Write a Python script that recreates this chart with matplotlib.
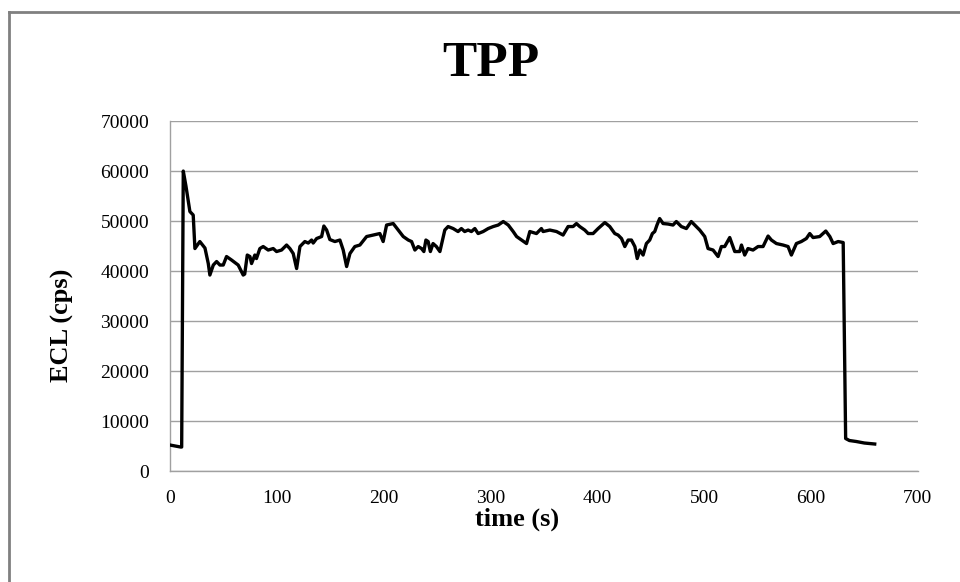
import matplotlib.pyplot as plt
from matplotlib.lines import Line2D

# ECL trace
time_s = [0, 5, 10, 11, 12.5, 15, 18.7, 21.8, 23.4, 28, 32.8, 35.9, 37.4, 40.6, 43.7,
          46.8, 49.9, 53, 57.7, 63.9, 68.6, 70, 72.4, 74.9, 76.4, 79.5, 81, 84.2, 87.3,
          92, 96.7, 99.8, 104.5, 109.2, 112.3, 115.4, 118.6, 121.7, 126.3, 129.5, 132.6,
          134.1, 137.3, 142, 144.1, 146.7, 149.7, 154.4, 159.1, 162.2, 165.4, 168.5,
          173.1, 177.8, 184.1, 190.3, 196.5, 199.6, 202.8, 209, 213.7, 218.4, 223.1,
          226.2, 229.3, 232.4, 235.5, 237.7, 239.6, 241.7, 243.8, 246.3, 249.4, 252.7,
          257.3, 260.4, 265.1, 269.7, 272.8, 275.9, 279.1, 282.2, 285.4, 288.5, 293.2,
          297.9, 302.6, 307.3, 312, 316.7, 321.3, 324.5, 329.2, 333.8, 336.9, 343.1,
          347.7, 349.3, 355.6, 361.9, 368, 372.7, 377.4, 380.5, 383.6, 388.3, 391.5,
          396.1, 400.8, 407.1, 411.7, 416.4, 419.5, 422.7, 425.8, 428.9, 432, 435.2,
          437.4, 439.9, 442.9, 446, 449.1, 451.6, 453.8, 455.9, 458.4, 461.6, 466.3,
          470.9, 474, 478.7, 483.4, 488, 491.2, 495.9, 500.6, 503.7, 508.4, 513.1,
          516.2, 519.3, 524, 528.7, 533.3, 535, 538, 541.1, 545.8, 550.5, 555.2, 559.9,
          563, 567.7, 573.9, 578.6, 581.7, 586.4, 591, 595.7, 598.9, 602, 608.2, 613.9,
          617.7, 620.8, 625.5, 630.2, 632.5, 636, 642.5, 650, 659.7]
ecl_cps = [5200, 5000, 4800, 4800, 60000, 57000, 51900, 51200, 44500, 45900, 44600, 41500,
           39200, 41200, 41900, 41200, 41200, 42900, 42200, 41200, 39200, 39400, 43200,
           42900, 41500, 43200, 42500, 44500, 44900, 44200, 44500, 43900, 44200, 45200,
           44500, 43500, 40500, 44900, 45900, 45600, 46200, 45600, 46500, 46900, 49000,
           48200, 46300, 45900, 46200, 44200, 40900, 43500, 44900, 45200, 46900, 47200,
           47500, 45900, 49200, 49500, 48200, 46900, 46200, 45900, 44200, 44900, 44500,
           43900, 46200, 45900, 43900, 45500, 44900, 43900, 48200, 48900, 48500, 47900,
           48500, 47900, 48200, 47900, 48500, 47500, 47900, 48500, 48900, 49200, 49900,
           49200, 47900, 46900, 46200, 45500, 47900, 47500, 48500, 47900, 48200, 47900,
           47200, 48900, 48900, 49500, 48900, 48200, 47500, 47500, 48500, 49700, 48900,
           47500, 47200, 46500, 44900, 46200, 46200, 44900, 42500, 44200, 43200, 45500,
           46200, 47500, 47900, 49200, 50500, 49500, 49400, 49200, 49900, 48900, 48500,
           49900, 49200, 48200, 46900, 44500, 44200, 42900, 44900, 44900, 46700, 43900,
           43900, 45200, 43200, 44500, 44200, 44900, 44900, 47000, 46200, 45500, 45200,
           44900, 43200, 45500, 45900, 46500, 47500, 46700, 46900, 48000, 46900, 45500,
           45900, 45700, 6500, 6100, 5900, 5600, 5400]

x_ticks = [0, 100, 200, 300, 400, 500, 600, 700]
y_ticks = [0, 10000, 20000, 30000, 40000, 50000, 60000, 70000]

plt.rcParams['font.family'] = ['Liberation Serif', 'DejaVu Serif']

fig = plt.figure(figsize=(9.6, 5.82), dpi=100)
ax = fig.add_axes([0.177, 0.1907, 0.779, 0.6013])

grid_col = '#a0a0a0'
ax.plot(time_s, ecl_cps, color='black', linewidth=2.4, solid_joinstyle='round', zorder=3)

ax.set_xlim(0, 700)
ax.set_ylim(0, 70000)
ax.set_xticks(x_ticks)
ax.set_yticks(y_ticks)
ax.set_yticklabels([str(v) for v in y_ticks])
ax.tick_params(axis='both', length=0, labelsize=14)
ax.tick_params(axis='y', pad=15)
ax.tick_params(axis='x', pad=14)
ax.yaxis.grid(True, color=grid_col, linewidth=1)
ax.set_axisbelow(True)

for side in ['top', 'right']:
    ax.spines[side].set_visible(False)
for side in ['left', 'bottom']:
    ax.spines[side].set_color(grid_col)
    ax.spines[side].set_linewidth(1)

# titles placed like Excel does: centred on the chart / plot area incl. labels
fig.text(491 / 960, 1 - 64 / 582, 'TPP', fontsize=37, fontweight='bold',
         ha='center', va='center')
fig.text(517 / 960, 1 - 519 / 582, 'time (s)', fontsize=19, fontweight='bold',
         ha='center', va='center')
fig.text(62 / 960, 1 - 325 / 582, 'ECL (cps)', fontsize=19, fontweight='bold',
         ha='center', va='center', rotation=90)

# outer chart border (only left and top edges are in frame)
bx = 9 / 960
by = 1 - 12 / 582
fig.add_artist(Line2D([bx, bx], [-0.1, by], color='#808080', linewidth=2))
fig.add_artist(Line2D([bx, 1.1], [by, by], color='#808080', linewidth=2))

fig.savefig('out.png', dpi=100)
